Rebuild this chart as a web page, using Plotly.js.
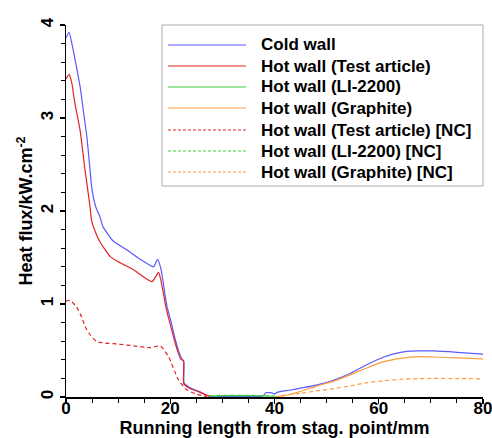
<!DOCTYPE html>
<html><head><meta charset="utf-8">
<script src="https://cdn.plot.ly/plotly-3.0.1.min.js"></script>
<style>html,body{margin:0;padding:0;background:#fff;}#chart{width:492px;height:438px;}</style>
</head><body><div id="chart"></div>
<script>
const coldX = [0,0.6,1.2,2.0,2.7,3.4,4.0,4.6,4.9,5.25,5.8,6.5,7.1,9,11.7,14,16.8,17.55,18.2,19,19.4,20.2,21,21.7,22.2,22.6,22.65,23.5,24.5,25.5,27.4,28.5,33,37.8,38.3,39.5,40,40.5,43.1,48.2,51.3,54.6,57.8,61,64.2,67.4,70.6,75,80];
const coldY = [3.86,3.92,3.78,3.55,3.34,3.05,2.80,2.45,2.27,2.15,2.03,1.94,1.83,1.68,1.58,1.49,1.40,1.48,1.38,1.10,0.97,0.80,0.61,0.48,0.41,0.38,0.15,0.11,0.08,0.06,0.01,0.005,0.005,0.01,0.045,0.045,0.03,0.05,0.075,0.13,0.18,0.255,0.35,0.43,0.48,0.495,0.495,0.48,0.46];
const hotX = [0,0.6,1.1,1.7,2.7,3.65,4.6,4.9,5.6,6.5,8.5,10.5,12.9,16.5,17.75,18.1,18.8,19.15,20,20.8,21.5,22.0,22.55,22.6,23.5,24.5,25.5,27.4,28];
const hotY = [3.42,3.47,3.38,3.16,2.87,2.44,2.05,1.90,1.78,1.67,1.51,1.44,1.37,1.24,1.34,1.28,1.08,0.97,0.78,0.61,0.48,0.41,0.39,0.14,0.10,0.075,0.055,0.01,0.005];
const liX = [27.5,30,33,36,38,40];
const liY = [0.01,0.015,0.015,0.015,0.012,0.008];
const grX = [40,41.5,43.1,45.5,48.2,51.4,54.6,57.8,61,64.2,67.4,70.6,75,80];
const grY = [0.0,0.01,0.03,0.07,0.12,0.17,0.24,0.315,0.38,0.415,0.435,0.43,0.42,0.41];
const hotNcX = [0,0.8,2,3,3.65,4.5,5.25,5.9,7.5,9.75,13,16.2,18.1,19.7,21.6,23.2,25.1,27];
const hotNcY = [1.03,1.04,0.97,0.86,0.76,0.68,0.63,0.595,0.58,0.57,0.55,0.53,0.55,0.43,0.18,0.075,0.03,0.005];
const liNcX = [27.5,30,33,36,38,40];
const liNcY = [0.012,0.018,0.018,0.017,0.014,0.01];
const grNcX = [40,42,45,48,51.4,54.6,57.8,61,64.2,67.4,70.6,75,80];
const grNcY = [0.0,0.02,0.04,0.065,0.09,0.12,0.155,0.175,0.19,0.197,0.2,0.198,0.195];
const names = ['Cold wall','Hot wall (Test article)','Hot wall (LI-2200)','Hot wall (Graphite)','Hot wall (Test article) [NC]','Hot wall (LI-2200) [NC]','Hot wall (Graphite) [NC]'];
const xTicks = [0,20,40,60,80];
const yTicks = [0,1,2,3,4];

const BLUE='rgb(90,90,255)', RED='rgb(225,35,35)', GREEN='rgb(60,210,60)', ORANGE='rgb(255,155,60)';
const dsh='4px,3px';
const styles = [
  {color:BLUE,width:1.2},{color:RED,width:1.2},{color:GREEN,width:1.2},{color:ORANGE,width:1.2},
  {color:RED,width:1.2,dash:dsh},{color:GREEN,width:1.2,dash:dsh},{color:ORANGE,width:1.2,dash:dsh}
];
const xs=[coldX,hotX,liX,grX,hotNcX,liNcX,grNcX], ys=[coldY,hotY,liY,grY,hotNcY,liNcY,grNcY];
const traces = names.map((n,i)=>({type:'scatter',mode:'lines',x:xs[i],y:ys[i],name:n,
  line:Object.assign({shape:'spline',smoothing:0.5},styles[i])}));

// manual legend (paper coords)
const pxX = p => (p-66)/417, pxY = p => (397-p)/372;
const rowsY = [45,66,87,108,130,151,172];
const shapes = [{type:'rect',xref:'paper',yref:'paper',x0:pxX(162),x1:pxX(483),y0:pxY(186),y1:pxY(25),
  line:{color:'#aaa',width:1},fillcolor:'#fff',layer:'above'}];
const annotations = [];
const F = {family:'"Liberation Sans", Arial, sans-serif', color:'#000', weight:'bold'};
names.forEach((n,i)=>{
  shapes.push({type:'line',xref:'paper',yref:'paper',x0:pxX(168),x1:pxX(246),y0:pxY(rowsY[i]),y1:pxY(rowsY[i]),
    line:Object.assign({},styles[i],{dash:styles[i].dash?'3px,2px':'solid'}),layer:'above'});
  annotations.push({xref:'paper',yref:'paper',x:pxX(259),y:pxY(rowsY[i]),xanchor:'left',yanchor:'middle',
    text:n,showarrow:false,font:Object.assign({},F,{size:17})});
});

const layout = {
  width:492,height:438,
  margin:{l:66,r:9,t:25,b:41},
  paper_bgcolor:'#fff',plot_bgcolor:'#fff',
  showlegend:false,shapes:shapes,annotations:annotations,
  xaxis:{range:[0,80],tickvals:xTicks,ticks:'outside',ticklen:5,tickwidth:1.2,tickcolor:'#000',
    showline:true,linecolor:'#000',linewidth:1.5,showgrid:false,zeroline:false,automargin:false,
    ticklabeloverflow:'allow',ticklabelstandoff:-10,
    minor:{dtick:5,ticks:'outside',ticklen:4,tickcolor:'#000',tickwidth:1},
    tickfont:Object.assign({},F,{size:17}),
    title:{text:'Running length from stag. point/mm',font:Object.assign({},F,{size:18}),standoff:7}},
  yaxis:{range:[0,4],tickvals:yTicks,ticks:'outside',ticklen:5,tickwidth:1.2,tickcolor:'#000',tickangle:-90,
    showline:true,linecolor:'#000',linewidth:1.5,showgrid:false,zeroline:false,automargin:false,
    minor:{dtick:0.2,ticks:'outside',ticklen:4,tickcolor:'#000',tickwidth:1},
    tickfont:Object.assign({},F,{size:17}),
    title:{text:'Heat flux/kW.cm<sup>-2</sup>',font:Object.assign({},F,{size:18}),standoff:0}}
};
Plotly.newPlot('chart',traces,layout,{displayModeBar:false,staticPlot:true});
</script></body></html>
